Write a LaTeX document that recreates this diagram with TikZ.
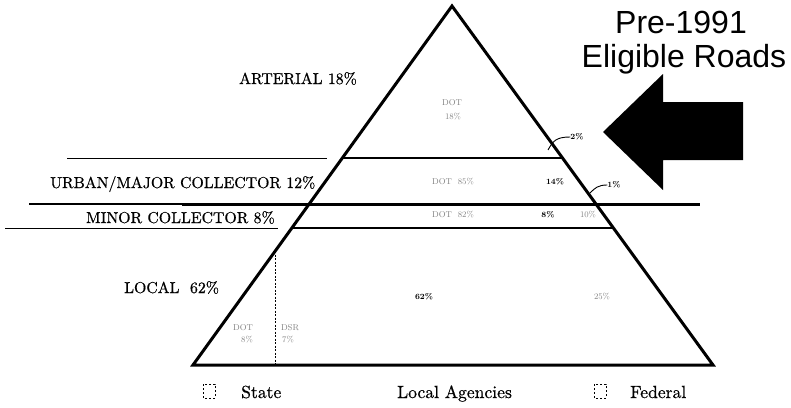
\documentclass[tikz,border=0pt]{standalone}
\usepackage{fontspec}
\newfontfamily\arialfont{Liberation Sans}
\newfontfamily\heavyfont{lmroman10-regular}[Extension=.otf, FakeBold=0.6]
\usetikzlibrary{calc}
\begin{document}
\begin{tikzpicture}[x=1pt,y=1pt,
  edge/.style={line width=3pt},
  rulethin/.style={line width=1.4pt},
  rulethick/.style={line width=3pt},
  lbl/.style={inner sep=0pt, anchor=base west, font=\heavyfont\fontsize{15.8}{18}\selectfont},
  faint/.style={inner sep=0pt, font=\fontsize{8.5}{9}\selectfont, text=black!50},
  pct/.style={inner sep=0pt, font=\fontsize{8}{9}\selectfont\bfseries},
  leg/.style={inner sep=0pt, anchor=base west, font=\heavyfont\fontsize{17.6}{20}\selectfont},
  legbox/.style={line width=1pt, dash pattern=on 2pt off 2pt},
  title/.style={inner sep=0pt, anchor=base, font=\arialfont\fontsize{32}{36}\selectfont},
  leader/.style={line width=0.9pt}
  ]
\useasboundingbox (0,0) rectangle (791,-407);
% triangle corners
\coordinate (A) at (452,-6);
\coordinate (BL) at (193,-365);
\coordinate (BR) at (713,-365);
% points on the edges
\coordinate (L1) at ($(A)!0.4234!(BL)$);
\coordinate (R1) at ($(A)!0.4234!(BR)$);
\coordinate (L3) at ($(A)!0.6184!(BL)$);
\coordinate (R3) at ($(A)!0.6184!(BR)$);
% horizontal rules
\draw[rulethin] (67,-158.5) -- (327,-158.5);
\draw[rulethin] (L1) -- (R1);
\draw[rulethin] (29,-204) -- (182,-204);
\draw[rulethick] (182,-204) -- (700,-204);
\draw[rulethin] (5,-228.5) -- (278,-228.5);
\draw[rulethin] (L3) -- (R3);
% dotted divider
\draw[line width=0.8pt, dash pattern=on 2pt off 1.5pt] (275,-251) -- (275,-365);
% triangle
\draw[edge, line join=miter] (A) -- (BL) -- (BR) -- cycle;
% left labels
\node[lbl] (art) at (239,-84) {ARTERIAL 18\%};
\node[lbl] (urb) at (50,-188) {URBAN/MAJOR COLLECTOR 12\%};
\node[lbl] (min) at (86,-223) {MINOR COLLECTOR 8\%};
\node[lbl] (loc) at (124,-293) {LOCAL\ \ 62\%};
% inner labels
\node[faint] (d1) at (452,-103) {DOT};
\node[faint] (d1p) at (453,-117) {18\%};
\node[faint] (d2) at (453,-182) {DOT\ \ 85\%};
\node[pct] (p14) at (555,-182) {14\%};
\node[pct] (p2) at (577,-137) {2\%};
\node[pct] (p1) at (614,-185) {1\%};
\node[faint] (d3) at (453,-215) {DOT\ \ 82\%};
\node[pct] (p8) at (548,-215) {8\%};
\node[faint] (p10) at (588,-215) {10\%};
\node[pct] (p62) at (424,-297) {62\%};
\node[faint] (p25) at (602,-297) {25\%};
\node[faint] (d4) at (243,-328) {DOT};
\node[faint] (d4p) at (247,-340) {8\%};
\node[faint] (d5) at (290,-328) {DSR};
\node[faint] (d5p) at (288,-340) {7\%};
% leaders
\coordinate (q2) at (548,-150);
\coordinate (q1) at (590,-193);
\draw[leader] (q2) .. controls (553,-141) and (556,-137) .. (p2.west);
\draw[leader] (q1) .. controls (595,-188) and (598,-185) .. (p1.west);
% arrow
\fill (603,-132) -- (663,-74) -- (663,-102) -- (743,-102) -- (743,-160) -- (663,-160) -- (663,-190) -- cycle;
% title
\node[title] (t1) at (681,-33) {Pre-1991};
\node[title] (t2) at (684,-67) {Eligible Roads};
% legend
\draw[legbox] (203,-384) rectangle (215,-398);
\node[leg] (lstate) at (241,-398) {State};
\node[leg] (lloc) at (397,-398) {Local Agencies};
\draw[legbox] (594,-384) rectangle (606,-398);
\node[leg] (lfed) at (630,-398) {Federal};
\end{tikzpicture}
\end{document}
